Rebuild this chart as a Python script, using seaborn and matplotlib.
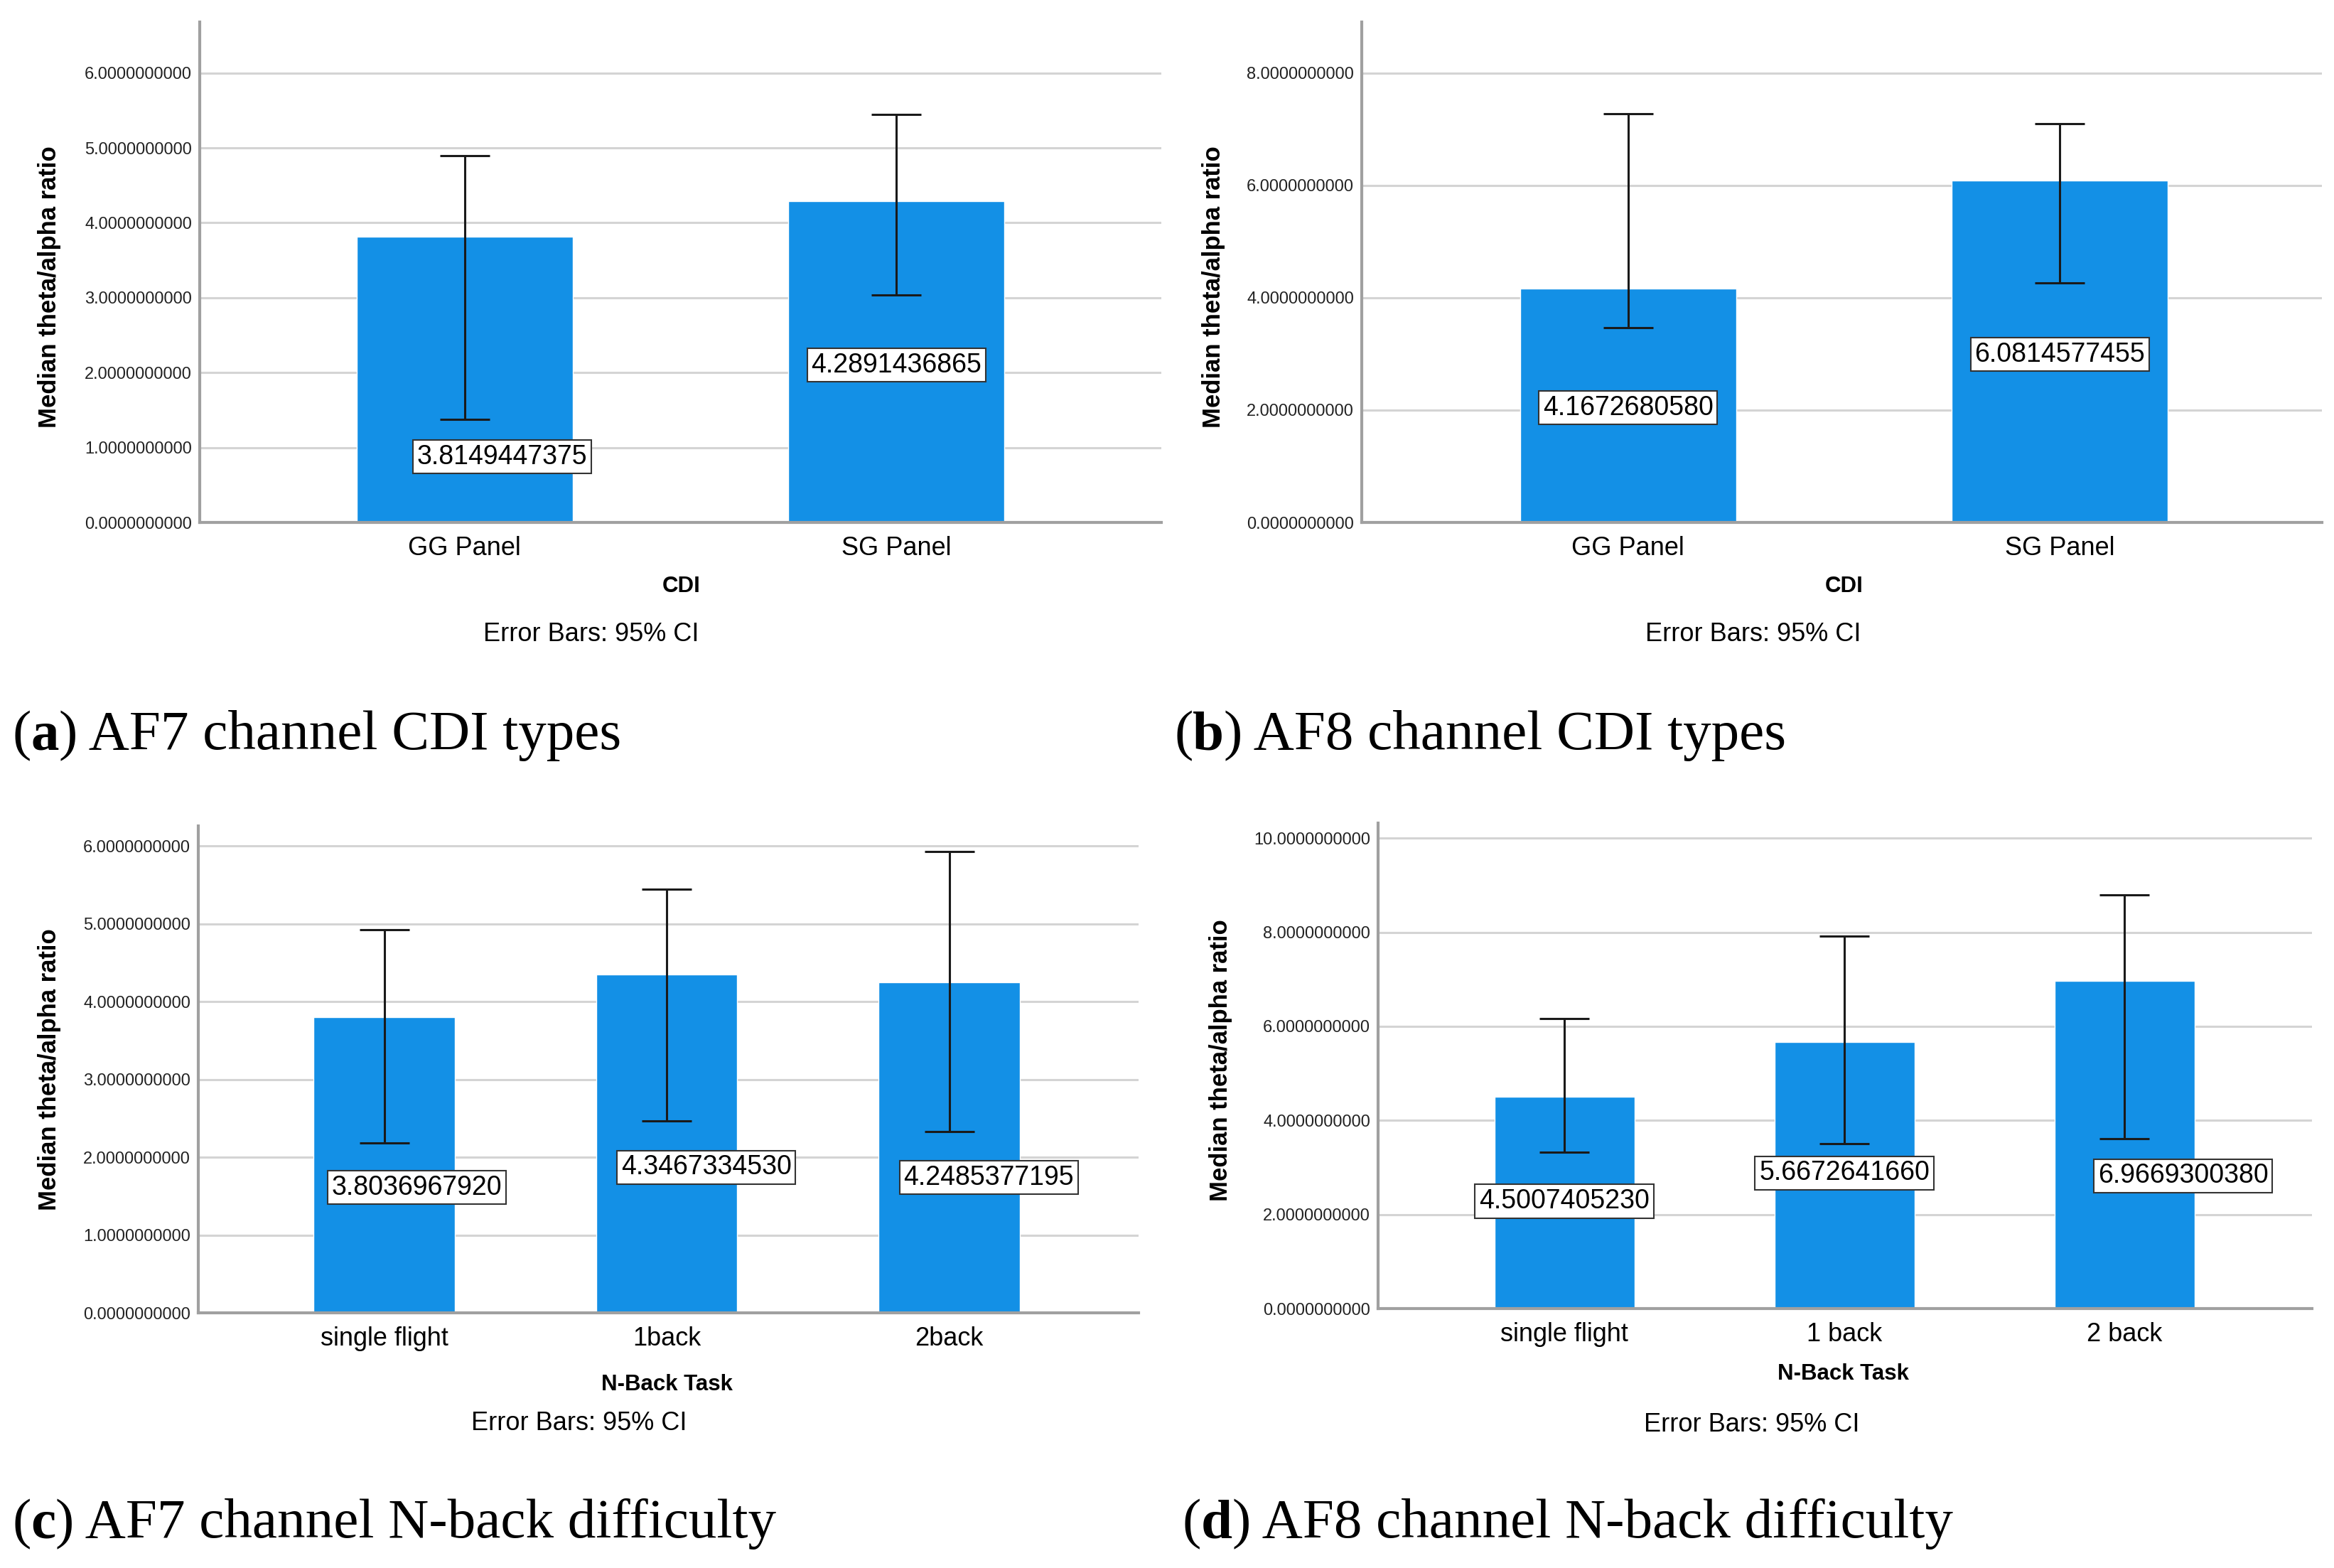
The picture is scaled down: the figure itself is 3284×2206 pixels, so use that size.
"""Four SPSS-style bar charts of median theta/alpha ratio with 95% CI error bars."""
import matplotlib

matplotlib.use("Agg")

import matplotlib.pyplot as plt
import pandas as pd
import seaborn as sns
from matplotlib.text import Annotation

# ---- data -----------------------------------------------------------------
cdi_groups = ["GG Panel", "SG Panel"]
af7_cdi_median = [3.8149447375, 4.2891436865]
af7_cdi_ci_low = [1.38, 3.04]
af7_cdi_ci_high = [4.90, 5.45]
af8_cdi_median = [4.1672680580, 6.0814577455]
af8_cdi_ci_low = [3.47, 4.26]
af8_cdi_ci_high = [7.28, 7.10]

nback_af7_groups = ["single flight", "1back", "2back"]
nback_af8_groups = ["single flight", "1 back", "2 back"]
af7_nback_median = [3.8036967920, 4.3467334530, 4.2485377195]
af7_nback_ci_low = [2.18, 2.47, 2.33]
af7_nback_ci_high = [4.93, 5.45, 5.93]
af8_nback_median = [4.5007405230, 5.6672641660, 6.9669300380]
af8_nback_ci_low = [3.32, 3.51, 3.61]
af8_nback_ci_high = [6.17, 7.91, 8.80]

y_ticks_a = [0, 1, 2, 3, 4, 5, 6]
y_ticks_b = [0, 2, 4, 6, 8]
y_ticks_c = [0, 1, 2, 3, 4, 5, 6]
y_ticks_d = [0, 2, 4, 6, 8, 10]

captions = [
    ("a", "AF7 channel CDI types"),
    ("b", "AF8 channel CDI types"),
    ("c", "AF7 channel N-back difficulty"),
    ("d", "AF8 channel N-back difficulty"),
]

# ---- style ----------------------------------------------------------------
BAR_BLUE = "#1390e6"
GRID_GREY = "#d4d4d4"
SPINE_GREY = "#a0a0a0"
W, H = 3284, 2206

sns.set_style("white")
plt.rcParams["font.family"] = ["Liberation Sans", "DejaVu Sans"]
plt.rcParams["text.color"] = "black"
plt.rcParams["axes.labelcolor"] = "black"
plt.rcParams["xtick.color"] = "black"


def px_rect(left, right, top, bottom):
    return [left / W, 1 - bottom / H, (right - left) / W, (bottom - top) / H]


def draw_panel(fig, rect, groups, medians, lows, highs, ticks, ylim, xlim,
               label_pos, label_dx, ylabel_xy):
    ax = fig.add_axes(rect)
    df = pd.DataFrame({"group": groups, "value": medians})
    sns.barplot(data=df, x="group", y="value", order=groups, color=BAR_BLUE,
                saturation=1, width=0.5, errorbar=None, ax=ax, zorder=2)

    xs = list(range(len(groups)))
    yerr = [[m - lo for m, lo in zip(medians, lows)],
            [hi - m for m, hi in zip(medians, highs)]]
    ax.errorbar(xs, medians, yerr=yerr, fmt="none", ecolor="#1a1a1a",
                elinewidth=2.2, capsize=25, capthick=2.2, zorder=3)

    # value labels in white boxes, as SPSS places them
    for x, v, ly, dx in zip(xs, medians, label_pos, label_dx):
        ax.text(x + dx, ly, f"{v:.10f}", ha="center", va="center", fontsize=27,
                zorder=4,
                bbox=dict(boxstyle="square,pad=0.15", facecolor="white",
                          edgecolor="#333333", linewidth=1.5))

    ax.set_ylim(0, ylim)
    ax.set_xlim(*xlim)
    ax.set_yticks(ticks)
    ax.set_yticklabels([f"{t:.10f}" for t in ticks], fontsize=17, color="#222222")
    ax.tick_params(axis="y", length=0, pad=8)
    ax.tick_params(axis="x", length=0, pad=14, labelsize=26)
    ax.yaxis.grid(True, color=GRID_GREY, linewidth=2.2, zorder=0)
    ax.set_axisbelow(True)
    for side in ("top", "right"):
        ax.spines[side].set_visible(False)
    for side in ("left", "bottom"):
        ax.spines[side].set_color(SPINE_GREY)
        ax.spines[side].set_linewidth(3)
    ax.spines["bottom"].set_zorder(5)
    ax.set_xlabel("")
    ax.set_ylabel("Median theta/alpha ratio", fontsize=25, fontweight="bold")
    ax.yaxis.set_label_coords(*ylabel_xy)
    return ax


def add_caption(fig, x, y, letter, text):
    serif = dict(fontsize=57, family="Liberation Serif", color="black",
                 va="bottom", ha="left")
    t1 = fig.text(x / W, 1 - y / H, "(", **serif)
    t2 = fig.add_artist(Annotation(letter, xy=(1, 0), xycoords=t1,
                                   fontweight="bold", **serif))
    fig.add_artist(Annotation(") " + text, xy=(1, 0), xycoords=t2, **serif))


fig = plt.figure(figsize=(W / 100, H / 100), dpi=100)

draw_panel(fig, px_rect(281, 1634, 31, 735), cdi_groups, af7_cdi_median,
           af7_cdi_ci_low, af7_cdi_ci_high, y_ticks_a, 6.68, (-0.614, 1.614),
           [0.875, 2.10], [0.086, 0.0], (-0.144, 0.47))
draw_panel(fig, px_rect(1916, 3267, 31, 735), cdi_groups, af8_cdi_median,
           af8_cdi_ci_low, af8_cdi_ci_high, y_ticks_b, 8.91, (-0.617, 1.607),
           [2.04, 2.99], [0.0, 0.0], (-0.142, 0.47))
draw_panel(fig, px_rect(279, 1602, 1162, 1847), nback_af7_groups,
           af7_nback_median, af7_nback_ci_low, af7_nback_ci_high, y_ticks_c,
           6.26, (-0.658, 2.67), [1.61, 1.87, 1.74], [0.116, 0.14, 0.14],
           (-0.146, 0.50))
draw_panel(fig, px_rect(1939, 3253, 1158, 1841), nback_af8_groups,
           af8_nback_median, af8_nback_ci_low, af8_nback_ci_high, y_ticks_d,
           10.32, (-0.665, 2.67), [2.28, 2.88, 2.82], [0.0, 0.0, 0.21],
           (-0.156, 0.512))

# axis titles and the "Error Bars" note below each panel
notes = [
    ("CDI", 959, 825, 832, 892),
    ("CDI", 2595, 825, 2467, 892),
    ("N-Back Task", 938, 1948, 815, 2002),
    ("N-Back Task", 2593, 1933, 2465, 2004),
]
for name, xx, xy, ex, ey in notes:
    fig.text(xx / W, 1 - xy / H, name, ha="center", va="center", fontsize=22.5,
             fontweight="bold")
    fig.text(ex / W, 1 - ey / H, "Error Bars: 95% CI", ha="center", va="center",
             fontsize=26)

caption_pos = [(17, 1071), (1652, 1071), (17, 2180), (1663, 2180)]
for (cx, cy), (letter, text) in zip(caption_pos, captions):
    add_caption(fig, cx, cy, letter, text)

fig.savefig("out.png", dpi=100, facecolor="white")
